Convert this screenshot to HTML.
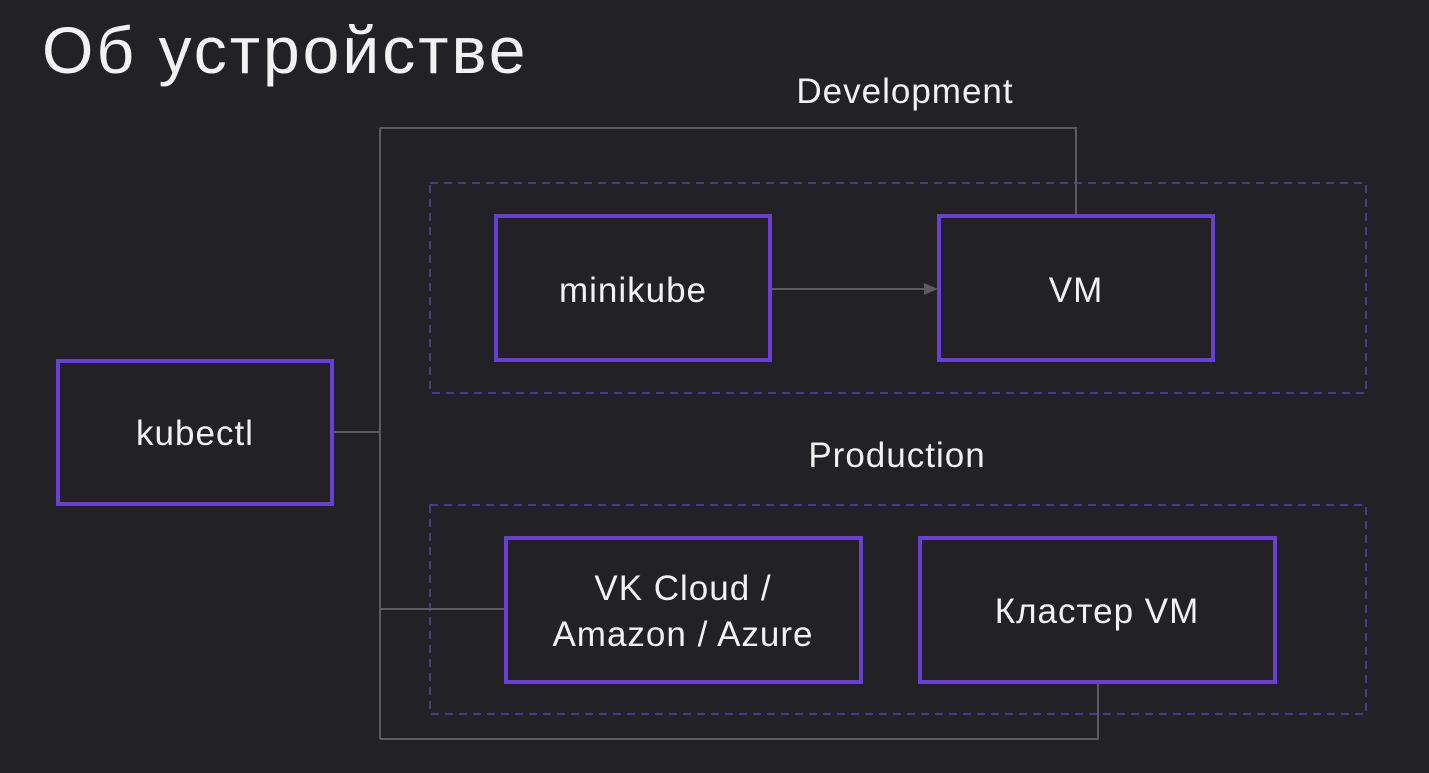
<!DOCTYPE html>
<html><head><meta charset="utf-8"><style>
html,body{margin:0;padding:0;background:#222126;}
svg{display:block}
text{font-family:"Liberation Sans","DejaVu Sans",sans-serif;fill:#f2f2f2}
</style></head><body>
<svg width="1429" height="773" viewBox="0 0 1429 773" xmlns="http://www.w3.org/2000/svg">
<rect width="1429" height="773" fill="#222126"/>
<text x="42" y="73" font-size="66" letter-spacing="3">Об устройстве</text>
<g stroke="#5c5b60" stroke-width="2" fill="none">
<polyline points="332,432 380,432"/>
<polyline points="380,128 380,739"/>
<polyline points="380,128 1076,128 1076,216"/>
<polyline points="380,739 1098,739 1098,682"/>
<polyline points="380,609 506,609"/>
<line x1="770" y1="289" x2="926" y2="289"/>
</g>
<polygon points="924,283 938,289 924,295" fill="#5c5b60"/>
<g stroke="#5a3db0" stroke-width="1.5" stroke-dasharray="8,6" fill="none">
<rect x="430" y="183" width="936" height="210"/>
<rect x="430" y="505" width="936" height="209"/>
</g>
<g stroke="#6a3fd4" stroke-width="4" fill="#222126">
<rect x="58" y="361" width="274" height="143"/>
<rect x="496" y="216" width="274" height="144"/>
<rect x="939" y="216" width="274" height="144"/>
<rect x="506" y="538" width="355" height="144"/>
<rect x="920" y="538" width="355" height="144"/>
</g>
<g font-size="35" text-anchor="middle" letter-spacing="1">
<text x="905" y="103">Development</text>
<text x="897" y="467">Production</text>
<text x="195" y="445">kubectl</text>
<text x="633" y="302">minikube</text>
<text x="1076" y="302">VM</text>
<text x="683" y="600">VK Cloud /</text>
<text x="683" y="646">Amazon / Azure</text>
<text x="1097" y="623">Кластер VM</text>
</g>
</svg>
</body></html>
